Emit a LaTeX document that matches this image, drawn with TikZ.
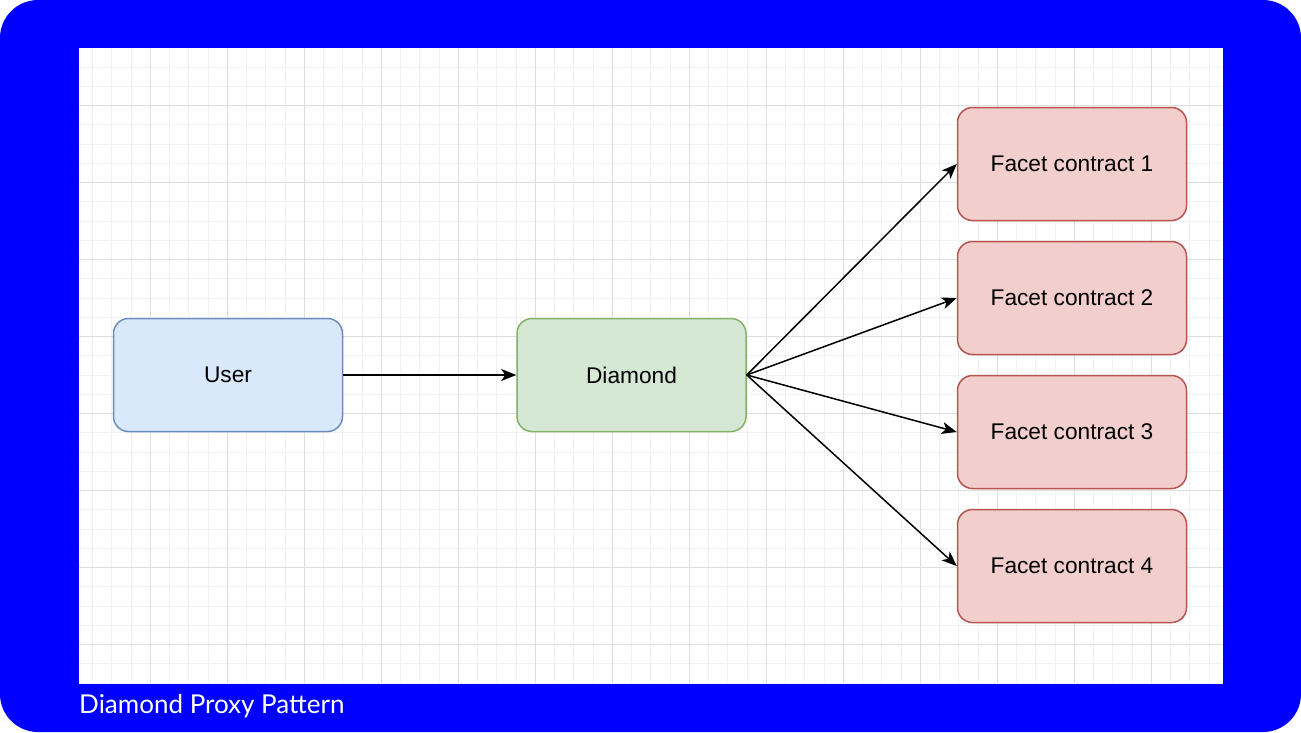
\documentclass[tikz,border=0pt]{standalone}
\usepackage{fontspec}
\setmainfont{Liberation Sans}
\newfontfamily\captionfont{Lato}
\usetikzlibrary{arrows.meta,positioning}

\definecolor{frameblue}{HTML}{0000FF}
\definecolor{userfill}{HTML}{DAE8FC}
\definecolor{userline}{HTML}{6C8EBF}
\definecolor{diamondfill}{HTML}{D5E8D4}
\definecolor{diamondline}{HTML}{82B366}
\definecolor{facetfill}{HTML}{F2CFCC}
\definecolor{facetline}{HTML}{B85450}

\begin{document}
\begin{tikzpicture}[x=1pt,y=-1pt,>={Stealth[length=15pt,width=12pt,inset=4pt]},
  box/.style={draw,rounded corners=15pt,line width=1.5pt,
    minimum width=229pt,minimum height=113pt,
    font=\fontsize{22.7}{26}\selectfont},
  minorgrid/.style={draw=black!5,line width=1pt},
  majorgrid/.style={draw=black!13,line width=1pt},
  link/.style={->,line width=1.5pt}]
  \useasboundingbox (0,0) rectangle (1301,732);
  \fill[frameblue,rounded corners=38pt] (0,0) rectangle (1301,732);
  \fill[white] (79,48) rectangle (1223,683);

  % background grid
  \begin{scope}
    \clip (79,48) rectangle (1223,683);
    \foreach \i in {0,...,60} {
      \draw[minorgrid] ({73.3+19.25*\i},48) -- ++(0,635);
      \draw[minorgrid] (79,{28.7+19.25*\i}) -- ++(1144,0);
    }
    \foreach \i in {0,...,15} {
      \draw[majorgrid] ({73.3+77*\i},48) -- ++(0,635);
      \draw[majorgrid] (79,{28.7+77*\i}) -- ++(1144,0);
    }
  \end{scope}

  \node[box,fill=userfill,draw=userline] (user) at (228,375) {User};
  \node[box,fill=diamondfill,draw=diamondline,right=173pt of user] (diamond) {Diamond};

  \node[box,fill=facetfill,draw=facetline] (facet1) at (1072,164) {Facet contract 1};
  \node[box,fill=facetfill,draw=facetline,below=19.5pt of facet1] (facet2) {Facet contract 2};
  \node[box,fill=facetfill,draw=facetline,below=19.5pt of facet2] (facet3) {Facet contract 3};
  \node[box,fill=facetfill,draw=facetline,below=19.5pt of facet3] (facet4) {Facet contract 4};

  \draw[link] (user) -- (diamond);
  \draw[link] (diamond.east) -- (facet1.west);
  \draw[link] (diamond.east) -- (facet2.west);
  \draw[link] (diamond.east) -- (facet3.west);
  \draw[link] (diamond.east) -- (facet4.west);

  \node[anchor=west,text=white,inner sep=0pt,font=\captionfont\fontsize{26}{30}\selectfont]
    (caption) at (79,706) {Diamond Proxy Pattern};
\end{tikzpicture}
\end{document}
